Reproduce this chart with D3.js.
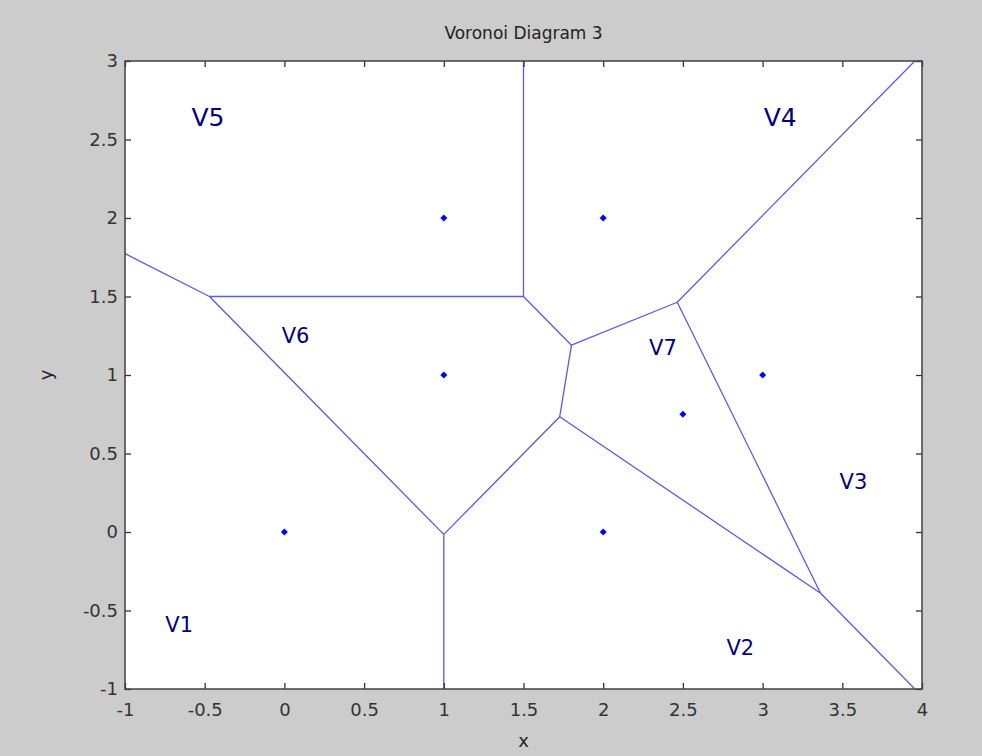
<!DOCTYPE html>
<html>
<head>
<meta charset="utf-8">
<script src="https://cdn.jsdelivr.net/npm/d3@7"></script>
<style>
  body { margin: 0; background: #cccccc; }
  svg { display: block; font-family: "DejaVu Sans", Verdana, sans-serif; }
</style>
</head>
<body>
<svg id="chart" width="982" height="756"></svg>
<script>
// generator points
const pointX = [0, 2, 3, 2, 1, 1, 2.5]
const pointY = [0, 0, 1, 2, 2, 1, 0.75]

// region labels (data coords)
const labelText = ['V1', 'V2', 'V3', 'V4', 'V5', 'V6', 'V7']
const labelX = [-0.66, 2.86, 3.57, 3.11, -0.48, 0.07, 2.375]
const labelY = [-0.59, -0.74, 0.32, 2.64, 2.64, 1.25, 1.17]

const xTicks = [-1, -0.5, 0, 0.5, 1, 1.5, 2, 2.5, 3, 3.5, 4]
const yTicks = [-1, -0.5, 0, 0.5, 1, 1.5, 2, 2.5, 3]
const xDomain = [-1, 4]
const yDomain = [-1, 3]

const svg = d3.select('#chart')

const box = { left: 125, right: 922, top: 61, bottom: 689 }

const x = d3.scaleLinear().domain(xDomain).range([box.left, box.right])
const y = d3.scaleLinear().domain(yDomain).range([box.bottom, box.top])

svg.append('rect')
.attr('x', box.left).attr('y', box.top)
.attr('width', box.right - box.left).attr('height', box.bottom - box.top)
.attr('fill', '#ffffff')

// voronoi edges
const pts = pointX.map((d, i) => [x(d), y(pointY[i])])
const voronoi = d3.Delaunay.from(pts).voronoi([box.left, box.top, box.right, box.bottom])

svg.append('path')
.attr('d', voronoi.render())
.attr('fill', 'none')
.attr('stroke', '#5a5ae6')
.attr('stroke-width', 1.3)

// generator dots
svg.append('g')
.selectAll('path')
.data(pts)
.enter()
.append('path')
.attr('d', d => `M${d[0]},${d[1] - 3.5}L${d[0] + 3.5},${d[1]}L${d[0]},${d[1] + 3.5}L${d[0] - 3.5},${d[1]}Z`)
.attr('fill', '#0000ff')

// labels
svg.append('g')
.selectAll('text')
.data(labelText)
.enter()
.append('text')
.attr('x', (d, i) => x(labelX[i]))
.attr('y', (d, i) => y(labelY[i]))
.attr('text-anchor', 'middle')
.attr('dominant-baseline', 'central')
.attr('fill', '#000080')
.style('font-size', d => (d === 'V4' || d === 'V5') ? '25px' : '21px')
.text(d => d)

// axes: inward ticks on all four sides
const tickCol = '#333333'
const tickLen = 6
const fmt = d => String(d)

svg.append('g')
.attr('transform', `translate(0,${box.bottom})`)
.call(d3.axisBottom(x).tickValues(xTicks).tickSize(-tickLen).tickPadding(14).tickFormat(fmt))
.call(g => g.select('.domain').remove())

svg.append('g')
.attr('transform', `translate(0,${box.top})`)
.call(d3.axisTop(x).tickValues(xTicks).tickSize(-tickLen).tickFormat(''))
.call(g => g.select('.domain').remove())

svg.append('g')
.attr('transform', `translate(${box.left},0)`)
.call(d3.axisLeft(y).tickValues(yTicks).tickSize(-tickLen).tickPadding(7).tickFormat(fmt))
.call(g => g.select('.domain').remove())

svg.append('g')
.attr('transform', `translate(${box.right},0)`)
.call(d3.axisRight(y).tickValues(yTicks).tickSize(-tickLen).tickFormat(''))
.call(g => g.select('.domain').remove())

svg.selectAll('.tick line').attr('stroke', tickCol).attr('stroke-width', 1.3)
svg.selectAll('.tick text')
.attr('fill', '#333333')
.style('font-size', '18px')
.style('font-family', '"DejaVu Sans", Verdana, sans-serif')

svg.append('rect')
.attr('x', box.left).attr('y', box.top)
.attr('width', box.right - box.left).attr('height', box.bottom - box.top)
.attr('fill', 'none')
.attr('stroke', '#404040')
.attr('stroke-width', 1.5)

// title and axis labels
svg.append('text')
.attr('x', (box.left + box.right) / 2)
.attr('y', 39)
.attr('text-anchor', 'middle')
.attr('fill', '#222222')
.style('font-size', '17px')
.text('Voronoi Diagram 3')

svg.append('text')
.attr('x', (box.left + box.right) / 2)
.attr('y', 747)
.attr('text-anchor', 'middle')
.attr('fill', '#222222')
.style('font-size', '18px')
.text('x')

svg.append('text')
.attr('transform', `translate(52,${(box.top + box.bottom) / 2}) rotate(-90)`)
.attr('text-anchor', 'middle')
.attr('fill', '#222222')
.style('font-size', '18px')
.text('y')
</script>
</body>
</html>
